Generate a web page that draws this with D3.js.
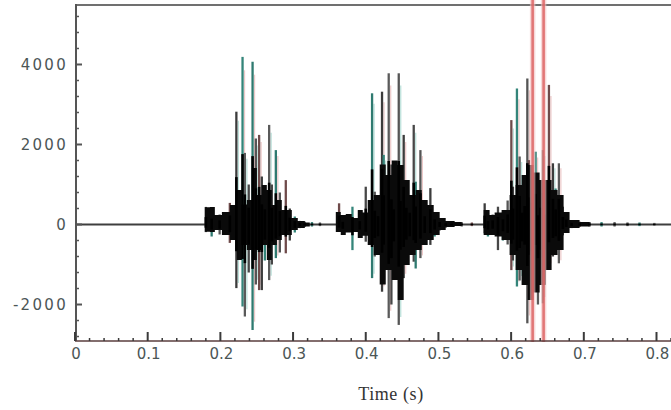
<!DOCTYPE html>
<html>
<head>
<meta charset="utf-8">
<script src="https://cdn.jsdelivr.net/npm/d3@7/dist/d3.min.js"></script>
<style>
  html, body { margin: 0; padding: 0; background: #fff; }
  svg { display: block; }
</style>
</head>
<body>
<svg id="chart" width="671" height="410"></svg>
<script>
// ---------------- data ----------------
const yTickValues = [4000, 2000, 0, -2000];
const yTickLabels = ["4000", "2000", "0", "-2000"];
const xTickValues = [0, 0.1, 0.2, 0.3, 0.4, 0.5, 0.6, 0.7, 0.8];
const xTickLabels = ["0", "0.1", "0.2", "0.3", "0.4", "0.5", "0.6", "0.7", "0.8"];
const xLabel = "Time (s)";

// Individual waveform peaks: time (s), max and min amplitude
const spikeT = [
  0.180, 0.188, 0.199, 0.213, 0.222, 0.2305, 0.2337, 0.239, 0.2443, 0.2488, 0.2533, 0.257, 0.2612, 0.2671, 0.2708, 0.2763, 0.2818, 0.290, 0.2955, 0.3024, 0.3093, 0.316, 0.326, 0.337,
  0.3633, 0.3684, 0.3817, 0.3918, 0.400, 0.4087, 0.4124, 0.4169, 0.4224, 0.4247, 0.4316, 0.4353, 0.4385, 0.4454, 0.4477, 0.4522, 0.4559, 0.4605, 0.466, 0.4687, 0.4752, 0.4811, 0.4889, 0.4948, 0.5017, 0.510, 0.518, 0.532, 0.546,
  0.5636, 0.5681, 0.5746, 0.5819, 0.5887, 0.5952, 0.6003, 0.6025, 0.608, 0.6117, 0.6154, 0.6186, 0.6223, 0.6245, 0.6282, 0.6337, 0.6369, 0.6406, 0.6437, 0.646, 0.652, 0.6575, 0.6612, 0.6657, 0.6712, 0.6759, 0.6832, 0.6942, 0.7079, 0.7244, 0.7423, 0.7601, 0.7766, 0.797
];
const spikeHi = [
  440, 350, 250, 540, 2820, 4190, 1790, 1000, 4070, 2150, 2240, 1200, 900, 2490, 1000, 1860, 800, 1110, 400, 200, 90, 70, 60, 50,
  530, 160, 445, 200, 945, 3280, 820, 500, 3320, 1740, 3780, 1500, 900, 3780, 1400, 2240, 990, 700, 2490, 1070, 1860, 490, 910, 300, 150, 80, 60, 60, 50,
  530, 200, 250, 445, 300, 600, 2610, 945, 3400, 1700, 700, 1100, 3650, 1610, 1300, 1820, 550, 1000, 1860, 600, 3490, 1530, 900, 1530, 445, 290, 100, 70, 60, 60, 60, 50, 50, 40
];
const spikeLo = [
  -190, -300, -250, -460, -1590, -2050, -2300, -1200, -2640, -1500, -1640, -1640, -900, -1390, -1000, -840, -700, -720, -400, -200, -90, -60, -50, -40,
  -180, -250, -640, -300, -430, -1340, -800, -700, -1680, -1200, -2340, -2000, -1000, -2510, -1500, -1340, -900, -700, -930, -1100, -840, -500, -510, -300, -150, -80, -50, -50, -40,
  -220, -300, -250, -640, -400, -500, -1140, -900, -1550, -1400, -1000, -1200, -2470, -1800, -1600, -1220, -2000, -1500, -1970, -1500, -1055, -800, -700, -970, -270, -150, -90, -60, -50, -50, -50, -40, -40, -30
];

// Dense black body of the signal: time (s), upper and lower envelope
const bodyT = [
  0.1773, 0.1787, 0.1856, 0.1924, 0.2021, 0.2131, 0.2227, 0.2296, 0.2364, 0.2433, 0.2502, 0.2570, 0.2639, 0.2708, 0.2777, 0.2845, 0.2914, 0.2983, 0.3065, 0.3162, 0.3230,
  0.3560, 0.3588, 0.3656, 0.3725, 0.3808, 0.3890, 0.3959, 0.4027, 0.4110, 0.4192, 0.4275, 0.4357, 0.4440, 0.4522, 0.4605, 0.4687, 0.4770, 0.4852, 0.4935, 0.5017, 0.5100, 0.5223, 0.5320,
  0.5595, 0.5622, 0.5704, 0.5773, 0.5869, 0.5979, 0.6062, 0.6144, 0.6227, 0.6309, 0.6392, 0.6474, 0.6557, 0.6639, 0.6722, 0.6804, 0.6942, 0.7079
];
const bodyHi = [
  0, 430, 440, 240, 310, 490, 860, 500, 610, 1410, 740, 990, 860, 490, 610, 360, 360, 160, 90, 50, 0,
  0, 310, 240, 260, 160, 360, 300, 610, 740, 1500, 1240, 1600, 1490, 1110, 740, 860, 610, 490, 310, 160, 90, 60, 0,
  0, 360, 240, 300, 360, 740, 990, 1240, 1490, 1300, 1110, 1110, 860, 740, 310, 110, 60, 0
];
const bodyLo = [
  0, -180, -190, -140, -260, -390, -890, -510, -640, -890, -640, -510, -890, -510, -390, -260, -260, -140, -90, -50, 0,
  0, -190, -260, -200, -190, -340, -280, -510, -760, -1500, -1140, -1390, -1890, -1010, -760, -640, -510, -390, -260, -140, -60, -40, 0,
  0, -260, -260, -300, -390, -760, -1140, -1510, -1890, -1700, -1510, -1140, -760, -640, -210, -90, -50, 0
];

// Two selection cursors (s)
const cursorT = [0.6296, 0.6447];

// ---------------- drawing ----------------
const svg = d3.select("#chart");
const x = d3.scaleLinear().domain([0, 0.8]).range([75, 656.5]);
const y = d3.scaleLinear().domain([-2912, 5487]).range([341, 5]);
const W = 671;

const plotLeft = 76, plotTop = 5, plotBottom = 341;

// frame
svg.append("line").attr("x1", plotLeft).attr("x2", W).attr("y1", plotTop).attr("y2", plotTop)
  .attr("stroke", "#707070").attr("stroke-width", 2.2);

// zero baseline
svg.append("line").attr("x1", plotLeft).attr("x2", W).attr("y1", y(0)).attr("y2", y(0))
  .attr("stroke", "#3f3f3f").attr("stroke-width", 2);

// spikes (outer, coloured like the scan fringes)
const palette = ["#474747", "#2f7a70", "#555555", "#6e4a4a", "#3c3c3c", "#34857a", "#5a5a5a"];
const spikes = spikeT.map((t, i) => ({ t, hi: spikeHi[i], lo: spikeLo[i], i }));
const g = svg.append("g");

// faint colour fringe beside tall spikes
g.selectAll("line.fr").data(spikes.filter(d => d.hi > 1500)).join("line").attr("class", "fr")
  .attr("x1", d => x(d.t) + 2).attr("x2", d => x(d.t) + 2)
  .attr("y1", d => y(d.hi * 0.92)).attr("y2", d => y(d.lo * 0.92))
  .attr("stroke", (d, i) => i % 2 ? "#e8bcbc" : "#a9d9d1")
  .attr("stroke-width", 1.2).attr("opacity", 0.8);

g.selectAll("line.sp").data(spikes).join("line").attr("class", "sp")
  .attr("x1", d => x(d.t)).attr("x2", d => x(d.t))
  .attr("y1", d => y(d.hi)).attr("y2", d => y(d.lo))
  .attr("stroke", d => palette[d.i % palette.length])
  .attr("stroke-width", 2.3);

// black body
const area = d3.area()
  .x((d, i) => x(bodyT[i]))
  .y0((d, i) => y(bodyLo[i]))
  .y1((d, i) => y(bodyHi[i]))
  .curve(d3.curveStepAfter);
g.append("path").datum(bodyT).attr("d", area).attr("fill", "#0a0a0a");

// black cores of the spikes
g.selectAll("line.core").data(spikes).join("line").attr("class", "core")
  .attr("x1", d => x(d.t)).attr("x2", d => x(d.t))
  .attr("y1", d => y(d.hi * 0.42)).attr("y2", d => y(d.lo * 0.42))
  .attr("stroke", "#000").attr("stroke-width", 2.6);

// cursors
svg.selectAll("line.halo").data(cursorT).join("line").attr("class", "halo")
  .attr("x1", d => x(d)).attr("x2", d => x(d)).attr("y1", 0).attr("y2", plotBottom + 1)
  .attr("stroke", "#f3c0c0").attr("stroke-width", 5.5).attr("opacity", 0.6);
svg.selectAll("line.cur").data(cursorT).join("line").attr("class", "cur")
  .attr("x1", d => x(d)).attr("x2", d => x(d)).attr("y1", 0).attr("y2", plotBottom + 1)
  .attr("stroke", "#dd6262").attr("stroke-width", 2.6).attr("opacity", 0.82);

// left axis
svg.append("line").attr("x1", plotLeft).attr("x2", plotLeft).attr("y1", plotTop - 1).attr("y2", plotBottom)
  .attr("stroke", "#555").attr("stroke-width", 2);
const yMinor = d3.range(-2800, 5487, 400);
svg.selectAll("line.ymin").data(yMinor).join("line").attr("class", "ymin")
  .attr("x1", plotLeft).attr("x2", d => plotLeft + (d % 2000 === 0 ? 6 : 3))
  .attr("y1", d => y(d)).attr("y2", d => y(d))
  .attr("stroke", "#555").attr("stroke-width", d => d % 2000 === 0 ? 2 : 1.5);
svg.selectAll("text.yl").data(yTickValues).join("text").attr("class", "yl")
  .attr("x", 68).attr("y", d => y(d)).attr("dy", "0.36em")
  .attr("text-anchor", "end")
  .attr("font-family", "DejaVu Sans, sans-serif").attr("font-size", 15)
  .attr("letter-spacing", 2.3)
  .attr("fill", "#4c5656")
  .text((d, i) => yTickLabels[i]);

// bottom axis
svg.append("line").attr("x1", plotLeft - 1).attr("x2", W).attr("y1", plotBottom).attr("y2", plotBottom)
  .attr("stroke", "#5a3e3e").attr("stroke-width", 1.6);
const xMinor = d3.range(0, 0.821, 0.02);
svg.selectAll("line.xmin").data(xMinor).join("line").attr("class", "xmin")
  .attr("x1", d => x(d)).attr("x2", d => x(d))
  .attr("y1", plotBottom)
  .attr("y2", d => plotBottom - (Math.abs(d * 10 - Math.round(d * 10)) < 1e-6 ? 9 : 3))
  .attr("stroke", "#3a3a3a")
  .attr("stroke-width", d => Math.abs(d * 10 - Math.round(d * 10)) < 1e-6 ? 2 : 1.5);
svg.selectAll("text.xl").data(xTickValues).join("text").attr("class", "xl")
  .attr("x", d => x(d) + 1).attr("y", 359)
  .attr("text-anchor", "middle")
  .attr("font-family", "DejaVu Sans, sans-serif").attr("font-size", 15)
  .attr("fill", "#4c5656")
  .text((d, i) => xTickLabels[i]);

svg.append("text").attr("x", 391).attr("y", 400).attr("text-anchor", "middle")
  .attr("font-family", "Liberation Serif, Times New Roman, serif").attr("font-size", 18)
  .attr("letter-spacing", 0.6)
  .attr("fill", "#333").text(xLabel);
</script>
</body>
</html>
